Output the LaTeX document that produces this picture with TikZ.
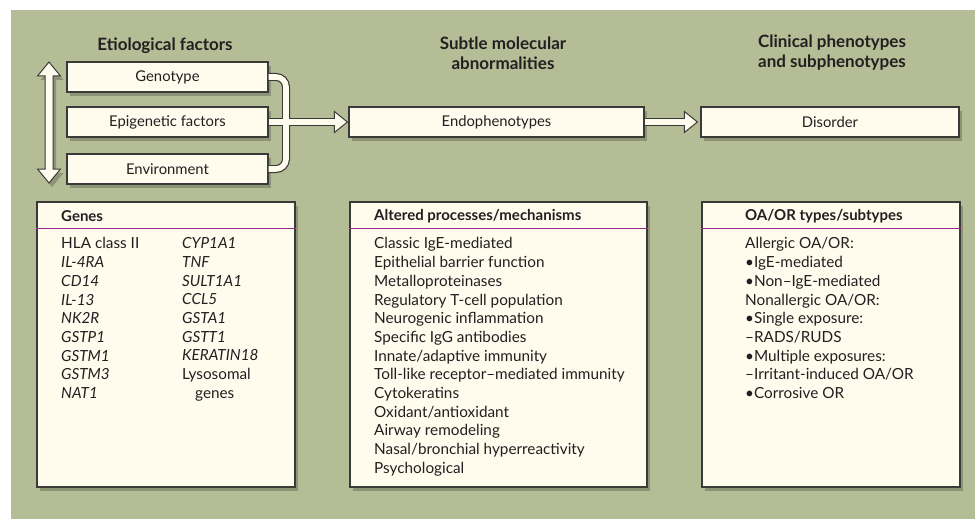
\documentclass[tikz,border=0pt]{standalone}
\usepackage{fontspec}
\setmainfont{Lato}
\usetikzlibrary{positioning,calc,shadows}
\definecolor{panelc}{HTML}{B5BD96}
\definecolor{boxc}{HTML}{FFFCEE}
\definecolor{linec}{HTML}{3A3A38}
\definecolor{rulec}{HTML}{9A2A8E}
\definecolor{textc}{HTML}{231F20}
\tikzset{
  boxshadow/.style={drop shadow={shadow xshift=3pt,shadow yshift=-4pt,opacity=0.22,fill=black}},
  factor/.style={draw=linec,line width=1.2pt,fill=boxc,minimum height=30,inner sep=0pt,
    font=\fontsize{14.8}{17}\selectfont,text=textc,boxshadow},
  listbox/.style={draw=linec,line width=1.2pt,fill=boxc,minimum height=285,inner sep=0pt,boxshadow},
  colhead/.style={font=\fontsize{17}{20}\selectfont\bfseries,align=center,text=textc},
  boxhead/.style={font=\fontsize{15}{17}\selectfont\bfseries,text=textc,anchor=west,inner sep=0pt},
  listtext/.style={font=\fontsize{15.3}{18.7}\selectfont,align=left,inner sep=0pt,text=textc,anchor=north west},
  pipe/.style={line width=8pt,draw=linec},
  pipecore/.style={line width=5.6pt,draw=boxc},
  hollow/.style={draw=linec,line width=1pt,fill=boxc},
  rule/.style={draw=rulec,line width=1.8pt}
}
\begin{document}
\begin{tikzpicture}[x=1pt,y=-1pt]
  \fill[white] (0,0) rectangle (975,519);
  \fill[panelc] (11,10) rectangle (975,519);
  \useasboundingbox (0,0) rectangle (975,519);

  % column headings
  \node[colhead] (h1) at (165,46) {Etiological factors};
  \node[colhead] (h2) at (503,53) {Subtle molecular\\abnormalities};
  \node[colhead] (h3) at (832,53) {Clinical phenotypes\\and subphenotypes};

  % top row
  \node[factor,minimum width=201] (geno) at (167.5,77) {Genotype};
  \node[factor,minimum width=201] (epi) at (167.5,122) {Epigenetic factors};
  \node[factor,minimum width=201] (env) at (167.5,169) {Environment};
  \node[factor,minimum width=295] (endo) at (496.5,122) {Endophenotypes};
  \node[factor,minimum width=258] (dis) at (830,122) {Disorder};

  % two-way arrow beside the factors
  \filldraw[hollow,boxshadow] (45,76) -- (37.5,76) -- (49,62) -- (60.5,76) -- (53,76)
    -- (53,169) -- (60.5,169) -- (49,183) -- (37.5,169) -- (45,169) -- cycle;

  % connectors
  \coordinate (bend) at (286,122);
  \draw[pipe,rounded corners=10pt] (geno.east) -| (bend) |- (env.east);
  \draw[pipe] (epi.east) -- ($(endo.west)+(-13,0)$);
  \draw[pipe] (endo.east) -- ($(dis.west)+(-15,0)$);
  \filldraw[hollow] ($(endo.west)+(-14,-10.5)$) -- ($(endo.west)+(-1,0)$) -- ($(endo.west)+(-14,10.5)$) -- cycle;
  \filldraw[hollow] ($(dis.west)+(-16,-10.5)$) -- ($(dis.west)+(-3,0)$) -- ($(dis.west)+(-16,10.5)$) -- cycle;
  \draw[pipecore,rounded corners=10pt] (geno.east) -| (bend) |- (env.east);
  \draw[pipecore] (epi.east) -- ($(endo.west)+(-12.5,0)$);
  \draw[pipecore] (endo.east) -- ($(dis.west)+(-14.5,0)$);

  % lower boxes
  \node[listbox,minimum width=258] (genes) at (166,344.5) {};
  \node[listbox,minimum width=297] (alt) at (498.5,344.5) {};
  \node[listbox,minimum width=258] (oa) at (831,344.5) {};

  \node[boxhead] (genesH) at (61,216) {Genes};
  \node[boxhead] (altH) at (374,216) {Altered processes/mechanisms};
  \node[boxhead] (oaH) at (745,216) {OA/OR types/subtypes};
  \draw[rule] ([yshift=-27pt]genes.north west) -- ([yshift=-27pt]genes.north east);
  \draw[rule] ([yshift=-27pt]alt.north west) -- ([yshift=-27pt]alt.north east);
  \draw[rule] ([yshift=-27pt]oa.north west) -- ([yshift=-27pt]oa.north east);

  \node[listtext] (genesA) at (61,237.5) {HLA class II\\\textit{IL-4RA}\\\textit{CD14}\\\textit{IL-13}\\
    \textit{NK2R}\\\textit{GSTP1}\\\textit{GSTM1}\\\textit{GSTM3}\\\textit{NAT1}};
  \node[listtext] (genesB) at (182,237.5) {\textit{CYP1A1}\\\textit{TNF}\\\textit{SULT1A1}\\\textit{CCL5}\\
    \textit{GSTA1}\\\textit{GSTT1}\\\textit{KERATIN18}\\Lysosomal\\\hspace*{13pt}genes};
  \node[listtext] (altL) at (374,237.5) {Classic IgE-mediated\\Epithelial barrier function\\
    Metalloproteinases\\Regulatory T-cell population\\Neurogenic inflammation\\
    Specific IgG antibodies\\Innate/adaptive immunity\\Toll-like receptor--mediated immunity\\
    Cytokeratins\\Oxidant/antioxidant\\Airway remodeling\\Nasal/bronchial hyperreactivity\\
    Psychological};
  \node[listtext] (oaL) at (745,237.5) {Allergic OA/OR:\\\textbullet IgE-mediated\\
    \textbullet Non--IgE-mediated\\Nonallergic OA/OR:\\\textbullet Single exposure:\\
    --RADS/RUDS\\\textbullet Multiple exposures:\\--Irritant-induced OA/OR\\\textbullet Corrosive OR};
\end{tikzpicture}
\end{document}
